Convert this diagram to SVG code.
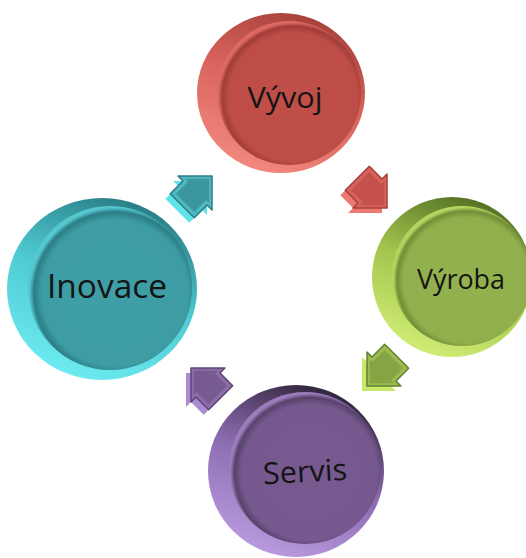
<svg xmlns="http://www.w3.org/2000/svg" width="526" height="558" viewBox="0 0 526 558">
  <style>
    .label { font-family: "Open Sans", "Liberation Sans", sans-serif; fill: #141414; text-anchor: middle; }
  </style>
  <defs>
    <!-- block arrow pointing along +x, tip at the origin -->
    <path id="arr" d="M0,0 L-24,-24 L-24,-17 L-42,-17 L-42,17 L-24,17 L-24,24 Z"/>
    <!-- inset bevel face of the same arrow -->
    <path id="arrIn" d="M-4,0 L-21,-17 L-21,-13 L-38,-13 L-38,13 L-21,13 L-21,17 Z"/>

    <!-- disc side walls: darker at the upper left, lit toward the lower left -->
    <linearGradient id="rimRed" x1="0.6" y1="0" x2="0.2" y2="1">
      <stop offset="0" stop-color="#A9423B"/>
      <stop offset="0.45" stop-color="#D9655D"/>
      <stop offset="1" stop-color="#F48C82"/>
    </linearGradient>
    <linearGradient id="rimGreen" x1="0.6" y1="0" x2="0.2" y2="1">
      <stop offset="0" stop-color="#557226"/>
      <stop offset="0.45" stop-color="#A3C44C"/>
      <stop offset="1" stop-color="#D6F27A"/>
    </linearGradient>
    <linearGradient id="rimTeal" x1="0.6" y1="0" x2="0.2" y2="1">
      <stop offset="0" stop-color="#2A7F87"/>
      <stop offset="0.45" stop-color="#4FCAD2"/>
      <stop offset="1" stop-color="#6FEFF4"/>
    </linearGradient>
    <linearGradient id="rimPurple" x1="0.6" y1="0" x2="0.2" y2="1">
      <stop offset="0" stop-color="#33263E"/>
      <stop offset="0.45" stop-color="#8C6CB0"/>
      <stop offset="1" stop-color="#BFA0E4"/>
    </linearGradient>

    <!-- disc faces: flat colour with a soft inner shadow at the rim -->
    <radialGradient id="faceRed" cx="0.53" cy="0.53" r="0.52">
      <stop offset="0" stop-color="#BF4F48"/>
      <stop offset="0.86" stop-color="#BD4D46"/>
      <stop offset="0.95" stop-color="#A13D37"/>
      <stop offset="1" stop-color="#DC6A62"/>
    </radialGradient>
    <radialGradient id="faceGreen" cx="0.53" cy="0.53" r="0.52">
      <stop offset="0" stop-color="#93B24F"/>
      <stop offset="0.86" stop-color="#91B04D"/>
      <stop offset="0.95" stop-color="#718E35"/>
      <stop offset="1" stop-color="#B4D460"/>
    </radialGradient>
    <radialGradient id="faceTeal" cx="0.53" cy="0.53" r="0.52">
      <stop offset="0" stop-color="#3F9FA7"/>
      <stop offset="0.86" stop-color="#3D9CA4"/>
      <stop offset="0.95" stop-color="#2C7D85"/>
      <stop offset="1" stop-color="#54C7CF"/>
    </radialGradient>
    <radialGradient id="facePurple" cx="0.53" cy="0.53" r="0.52">
      <stop offset="0" stop-color="#785A90"/>
      <stop offset="0.86" stop-color="#76588E"/>
      <stop offset="0.95" stop-color="#57426C"/>
      <stop offset="1" stop-color="#9C7CBA"/>
    </radialGradient>
  </defs>

  <rect width="526" height="558" fill="#FFFFFF"/>

  <!-- connectors: extruded block arrows -->
  <g id="connectors">
    <g id="arrow-inovace-vyvoj" transform="translate(212,176) rotate(-45)">
      <use href="#arr" transform="rotate(45) translate(-5,5) rotate(-45)" fill="#5FE4EA"/>
      <use href="#arr" fill="#4FB9C0" stroke="#2B7B83" stroke-width="1.5" stroke-linejoin="round"/>
      <use href="#arrIn" fill="#3A979F"/>
    </g>
    <g id="arrow-vyvoj-vyroba" transform="translate(387,208) rotate(45)">
      <use href="#arr" transform="rotate(-45) translate(-5,5) rotate(45)" fill="#EC7A72"/>
      <use href="#arr" fill="#D6625A" stroke="#A43F39" stroke-width="1.5" stroke-linejoin="round"/>
      <use href="#arrIn" fill="#C4514A"/>
    </g>
    <g id="arrow-vyroba-servis" transform="translate(367,386) rotate(135)">
      <use href="#arr" transform="rotate(-135) translate(-5,5) rotate(135)" fill="#C8E86C"/>
      <use href="#arr" fill="#9CBB52" stroke="#62802B" stroke-width="1.5" stroke-linejoin="round"/>
      <use href="#arrIn" fill="#86A443"/>
    </g>
    <g id="arrow-servis-inovace" transform="translate(191,368) rotate(-135)">
      <use href="#arr" transform="rotate(135) translate(-5,5) rotate(-135)" fill="#AA8CD2"/>
      <use href="#arr" fill="#8C6DA8" stroke="#5E4576" stroke-width="1.5" stroke-linejoin="round"/>
      <use href="#arrIn" fill="#785A93"/>
    </g>
  </g>

  <!-- nodes -->
  <g id="vyvoj">
    <ellipse cx="281" cy="93" rx="84" ry="80" fill="url(#rimRed)"/>
    <circle cx="289" cy="93" r="72" fill="url(#faceRed)"/>
    <text class="label" x="285" y="108" font-size="30" textLength="75" lengthAdjust="spacingAndGlyphs">Vývoj</text>
  </g>

  <g id="vyroba">
    <ellipse cx="452" cy="277" rx="80" ry="80" fill="url(#rimGreen)"/>
    <circle cx="462" cy="276" r="70" fill="url(#faceGreen)"/>
    <text class="label" x="461" y="289" font-size="27" textLength="88" lengthAdjust="spacingAndGlyphs">Výroba</text>
  </g>

  <g id="inovace">
    <ellipse cx="102" cy="289" rx="95" ry="91" fill="url(#rimTeal)"/>
    <circle cx="110" cy="288" r="82" fill="url(#faceTeal)"/>
    <text class="label" x="107" y="298" font-size="33" textLength="120" lengthAdjust="spacingAndGlyphs">Inovace</text>
  </g>

  <g id="servis">
    <ellipse cx="296" cy="471" rx="88" ry="86" fill="url(#rimPurple)"/>
    <circle cx="305" cy="468" r="76" fill="url(#facePurple)"/>
    <text class="label" x="305" y="482" font-size="30" textLength="84" lengthAdjust="spacingAndGlyphs" transform="rotate(-3 305 472)">Servis</text>
  </g>
</svg>
